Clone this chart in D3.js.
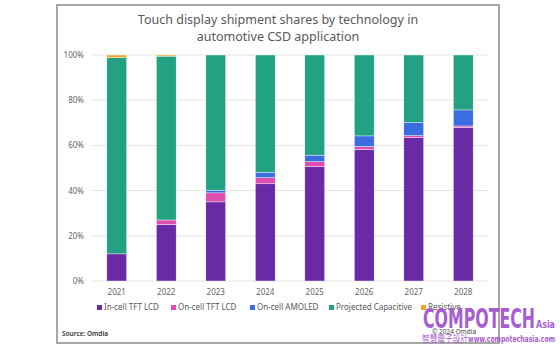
<!DOCTYPE html>
<html lang="en">
  <head>
    <meta charset="utf-8" />
    <title>Touch display shipment shares by technology</title>
    <script src="https://d3js.org/d3.v7.min.js"></script>
    <style>
      body {
        margin: 0;
        background: #fff;
        font-family: 'Noto Sans', sans-serif;
      }
      svg {
        display: block;
      }
      .grid line {
        stroke: #e4e4e4;
      }
      .axis text {
        fill: #666;
      }
    </style>
  </head>
  <body>
    <div id="chart"></div>
    <script>
      /* ----------------------------- DATA ----------------------------- */
      const years = ['2021', '2022', '2023', '2024', '2025', '2026', '2027', '2028'];
      const seriesNames = [
        'In-cell TFT LCD',
        'On-cell TFT LCD',
        'On-cell AMOLED',
        'Projected Capacitive',
        'Resistive',
      ];
      const inCellTft = [12, 25, 35, 43, 50.6, 58.3, 63.4, 68];
      const onCellTft = [0, 2, 4, 2.7, 2.2, 1.2, 0.9, 0.6];
      const onCellAmoled = [0, 0, 1.2, 2.4, 2.9, 4.7, 5.8, 7.1];
      const projCap = [86.8, 72.5, 59.8, 51.9, 44.3, 35.8, 29.9, 24.3];
      const resistive = [1.2, 0.5, 0, 0, 0, 0, 0, 0];
      const yTicks = [0, 20, 40, 60, 80, 100];

      const colors = ['#6a2aa6', '#e04db0', '#3a6ee0', '#22a283', '#e9a82a'];

      /* ----------------------------- SETUP ---------------------------- */
      const W = 560,
        H = 350;
      const plot = { l: 92, r: 488, t: 55, b: 281 };

      const svg = d3
        .select('#chart')
        .append('svg')
        .attr('width', W)
        .attr('height', H);

      // outer frame
      svg
        .append('rect')
        .attr('x', 57)
        .attr('y', 5)
        .attr('width', 442)
        .attr('height', 338)
        .attr('fill', '#fff')
        .attr('stroke', '#8a8a8a')
        .attr('stroke-width', 1.5);

      // title
      const title = svg
        .append('text')
        .attr('x', 278)
        .attr('text-anchor', 'middle')
        .attr('fill', '#595959')
        .style('font-size', '12.5px');
      title.append('tspan').attr('x', 278).attr('y', 24).text('Touch display shipment shares by technology in');
      title.append('tspan').attr('x', 278).attr('y', 41).text('automotive CSD application');

      /* ----------------------------- SCALES --------------------------- */
      const rows = years.map((yr, i) => ({
        year: yr,
        [seriesNames[0]]: inCellTft[i],
        [seriesNames[1]]: onCellTft[i],
        [seriesNames[2]]: onCellAmoled[i],
        [seriesNames[3]]: projCap[i],
        [seriesNames[4]]: resistive[i],
      }));
      const stacked = d3.stack().keys(seriesNames)(rows);

      const x = d3
        .scaleBand()
        .domain(years)
        .range([plot.l, plot.r])
        .paddingInner(0.6)
        .paddingOuter(0.3);
      const y = d3.scaleLinear().domain([0, 100]).range([plot.b, plot.t]);
      const color = d3.scaleOrdinal(seriesNames, colors);

      /* ----------------------------- GRID ----------------------------- */
      svg
        .append('g')
        .attr('class', 'grid')
        .selectAll('line')
        .data(yTicks)
        .join('line')
        .attr('x1', plot.l)
        .attr('x2', plot.r)
        .attr('y1', (d) => y(d))
        .attr('y2', (d) => y(d));

      svg
        .append('g')
        .attr('class', 'axis')
        .selectAll('text')
        .data(yTicks)
        .join('text')
        .attr('x', 84)
        .attr('y', (d) => y(d) + 3)
        .attr('text-anchor', 'end')
        .style('font-size', '8px')
        .text((d) => d + '%');

      svg
        .append('g')
        .attr('class', 'axis')
        .selectAll('text')
        .data(years)
        .join('text')
        .attr('x', (d) => x(d) + x.bandwidth() / 2)
        .attr('y', 295)
        .attr('text-anchor', 'middle')
        .style('font-size', '8px')
        .text((d) => d);

      /* ----------------------------- BARS ----------------------------- */
      svg
        .append('g')
        .selectAll('g')
        .data(stacked)
        .join('g')
        .attr('fill', (d) => color(d.key))
        .selectAll('rect')
        .data((d) => d.filter((s) => s[1] - s[0] > 0))
        .join('rect')
        .attr('x', (d) => x(d.data.year))
        .attr('width', x.bandwidth())
        .attr('y', (d) => y(d[1]))
        .attr('height', (d) => y(d[0]) - y(d[1]))
        .attr('stroke', '#fff')
        .attr('stroke-width', 0.4);

      /* ----------------------------- LEGEND --------------------------- */
      const legendX = [97, 171, 250, 329, 421];
      const legend = svg
        .append('g')
        .selectAll('g')
        .data(seriesNames)
        .join('g')
        .attr('transform', (d, i) => `translate(${legendX[i]},310)`);
      legend
        .append('rect')
        .attr('y', -5)
        .attr('width', 5)
        .attr('height', 5)
        .attr('fill', (d) => color(d));
      legend
        .append('text')
        .attr('x', 7)
        .attr('y', 0)
        .attr('fill', '#595959')
        .style('font-size', '8px')
        .text((d) => d);

      /* ----------------------------- FOOTER --------------------------- */
      svg
        .append('text')
        .attr('x', 62)
        .attr('y', 336)
        .attr('fill', '#333')
        .style('font-size', '6.5px')
        .style('font-weight', '600')
        .text('Source: Omdia');

      svg
        .append('text')
        .attr('x', 432)
        .attr('y', 334)
        .attr('fill', '#444')
        .style('font-size', '6.5px')
        .text('© 2024 Omdia');

      // watermark
      const wm = svg.append('g').attr('fill', '#9f50cb').attr('opacity', 0.92);
      wm.append('text')
        .attr('x', 423)
        .attr('y', 328)
        .attr('textLength', 112)
        .attr('lengthAdjust', 'spacingAndGlyphs')
        .style('font-family', "'DejaVu Sans Condensed', 'DejaVu Sans', sans-serif")
        .style('font-size', '26px')
        .style('font-weight', 'bold')
        .text('COMPOTECH');
      wm.append('text')
        .attr('x', 536)
        .attr('y', 328)
        .attr('textLength', 19)
        .attr('lengthAdjust', 'spacingAndGlyphs')
        .style('font-family', "'DejaVu Sans Condensed', 'DejaVu Sans', sans-serif")
        .style('font-size', '11px')
        .style('font-weight', 'bold')
        .text('Asia');
      wm.append('text')
        .attr('x', 422)
        .attr('y', 342)
        .attr('textLength', 46)
        .attr('lengthAdjust', 'spacingAndGlyphs')
        .style('font-family', "'Noto Sans CJK TC', sans-serif")
        .style('font-size', '9px')
        .text('智慧電子設計');
      wm.append('text')
        .attr('x', 468)
        .attr('y', 342)
        .attr('textLength', 87)
        .attr('lengthAdjust', 'spacingAndGlyphs')
        .style('font-family', "'DejaVu Sans Condensed', sans-serif")
        .style('font-size', '9.5px')
        .style('font-weight', 'bold')
        .text('www.compotechasia.com');
    </script>
  </body>
</html>
